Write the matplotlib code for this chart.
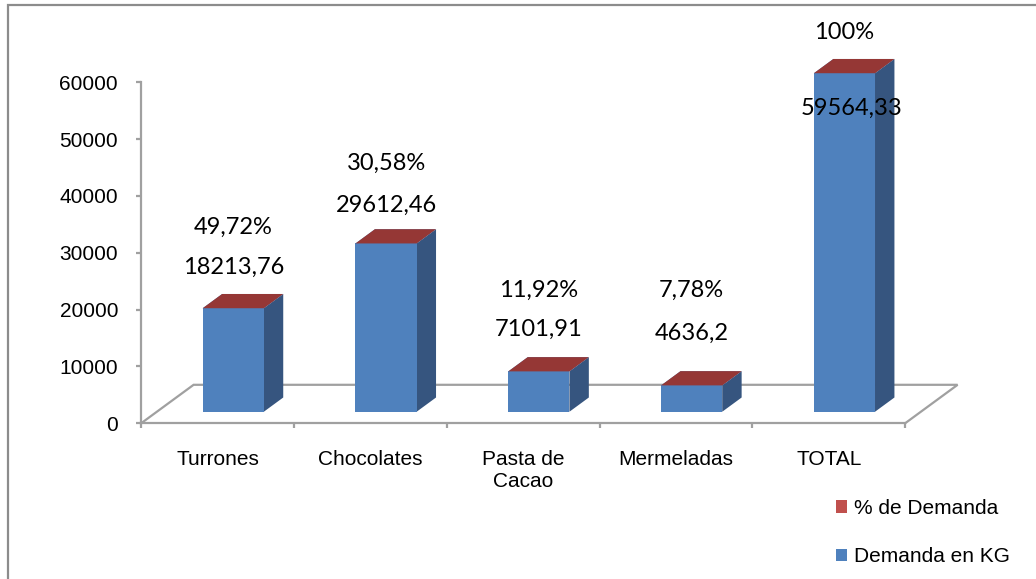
import matplotlib
matplotlib.use("Agg")
import matplotlib.pyplot as plt
from matplotlib.patches import Polygon, Rectangle, Patch
from matplotlib.ticker import FixedLocator, NullFormatter, FixedFormatter

plt.rcParams['font.family'] = ['Liberation Sans', 'DejaVu Sans']

# ---- data ----
categories = ["Turrones", "Chocolates", "Pasta de\nCacao", "Mermeladas", "TOTAL"]
demanda_kg = [18213.76, 29612.46, 7101.91, 4636.2, 59564.33]
pct_demanda = [49.72, 30.58, 11.92, 7.78, 100]
y_ticks = [0, 10000, 20000, 30000, 40000, 50000, 60000]
series_names = ["% de Demanda", "Demanda en KG"]

# ---- layout / style ----
W, H, DPI = 1036, 579, 100
PX_PER_CAT = 152.8          # pixels per category slot
PX_PER_UNIT = 341 / 60000   # pixels per kg on the value axis
X0_PX, Y0_PX = 217.5, 423.3 # pixel position of category 0 / value 0

# oblique depth of the floor, in data units
DEPTH_DX = 52.5 / PX_PER_CAT
DEPTH_DY = 38.5 / PX_PER_UNIT
BAR_FRONT, BAR_BACK = 0.30, 0.67   # bar position inside the floor depth
BAR_W = 0.40

FRONT = "#4F81BD"
SIDE = "#36557F"
TOP_RED = "#953735"
RED_FRONT = "#C0504D"
RED_SIDE = "#8C3836"
AXIS_GRAY = "#A0A0A0"

# label offsets above the bar front top (pixels)
val_off_px = [41, 38, 42, 52, -35]
pct_off_px = [81, 80, 81, 95, 41]
val_dx_px = [0, 0, 0, 0, 7]

fig = plt.figure(figsize=(W / DPI, H / DPI), dpi=DPI)
ax = fig.add_axes([0, 0, 1, 1])
ax.set_xlim(-X0_PX / PX_PER_CAT, (W - X0_PX) / PX_PER_CAT)
ax.set_ylim((Y0_PX - H) / PX_PER_UNIT, Y0_PX / PX_PER_UNIT)
ax.patch.set_visible(False)

# outer chart frame
fig.patches.append(Rectangle((8 / W, -0.2), 1.2, (H - 5) / H + 0.2,
                             transform=fig.transFigure, fill=False,
                             ec="#8C8C8C", lw=1.6))

# ---- axes ----
n = len(categories)
for s in ("top", "right"):
    ax.spines[s].set_visible(False)
ax.spines["left"].set_position(("data", -0.5))
ax.spines["left"].set_bounds(y_ticks[0], y_ticks[-1])
ax.spines["bottom"].set_position(("data", 0))
ax.spines["bottom"].set_bounds(-0.5, n - 0.5)
for s in ("left", "bottom"):
    ax.spines[s].set_color(AXIS_GRAY)
    ax.spines[s].set_linewidth(1.6)
    ax.spines[s].set_zorder(2)

ax.yaxis.set_major_locator(FixedLocator(y_ticks))
ax.set_yticklabels([str(t) for t in y_ticks])
ax.tick_params(axis="y", direction="out", length=3.6, width=1.6,
               color=AXIS_GRAY, labelsize=15, pad=13)

ax.xaxis.set_major_locator(FixedLocator([i - 0.5 for i in range(n + 1)]))
ax.xaxis.set_major_formatter(NullFormatter())
ax.xaxis.set_minor_locator(FixedLocator(list(range(n))))
ax.xaxis.set_minor_formatter(FixedFormatter(categories))
ax.tick_params(axis="x", which="major", direction="out", length=3.6,
               width=1.6, color=AXIS_GRAY)
ax.tick_params(axis="x", which="minor", length=0, labelsize=15, pad=19)

# ---- floor outline ----
fl = [(-0.5, 0), (-0.5 + DEPTH_DX, DEPTH_DY),
      (n - 0.5 + DEPTH_DX, DEPTH_DY), (n - 0.5, 0)]
ax.plot([p[0] for p in fl], [p[1] for p in fl], color=AXIS_GRAY,
        lw=1.6, zorder=1, solid_joinstyle="miter")


def box(x_left, base, height, fc_front, fc_side, fc_top, z):
    """Draw an oblique 3D box whose front face starts at (x_left, base)."""
    ddx = (BAR_BACK - BAR_FRONT) * DEPTH_DX
    ddy = (BAR_BACK - BAR_FRONT) * DEPTH_DY
    xr = x_left + BAR_W
    top = base + height
    side = [(xr, base), (xr + ddx, base + ddy), (xr + ddx, top + ddy), (xr, top)]
    front = [(x_left, base), (xr, base), (xr, top), (x_left, top)]
    lid = [(x_left, top), (xr, top), (xr + ddx, top + ddy), (x_left + ddx, top + ddy)]
    ax.add_patch(Polygon(side, closed=True, fc=fc_side, ec="none", zorder=z))
    ax.add_patch(Polygon(front, closed=True, fc=fc_front, ec="none", zorder=z))
    ax.add_patch(Polygon(lid, closed=True, fc=fc_top, ec="none", zorder=z))


for i, (v, p) in enumerate(zip(demanda_kg, pct_demanda)):
    xl = i + BAR_FRONT * DEPTH_DX - BAR_W / 2
    base = BAR_FRONT * DEPTH_DY
    box(xl, base, v, FRONT, SIDE, FRONT, 3 + i * 0.01)
    # percentage series stacked on top (fraction of demand)
    box(xl, base + v, p / 100, RED_FRONT, RED_SIDE, TOP_RED, 3.005 + i * 0.01)

    cx = i + BAR_FRONT * DEPTH_DX
    top = base + v
    ax.annotate(str(v).replace(".", ","), xy=(cx, top),
                xytext=(val_dx_px[i] * 0.72, val_off_px[i] * 0.72),
                textcoords="offset points", ha="center", va="center",
                fontsize=17, family=["Lato", "DejaVu Sans"], zorder=6)
    ax.annotate(f"{p:g}".replace(".", ",") + "%", xy=(cx, top),
                xytext=(0, pct_off_px[i] * 0.72),
                textcoords="offset points", ha="center", va="center",
                fontsize=17, family=["Lato", "DejaVu Sans"], zorder=6)

# ---- legend ----
handles = [Patch(fc=RED_FRONT, ec="none"), Patch(fc=FRONT, ec="none")]
leg = ax.legend(handles, series_names, loc="upper left",
                bbox_to_anchor=(836 / W, 1 - 499 / H),
                bbox_transform=fig.transFigure, frameon=False, fontsize=15,
                handlelength=0.55, handleheight=0.55, handletextpad=0.3,
                labelspacing=1.4, borderpad=0, borderaxespad=0)

fig.savefig("out.png", dpi=DPI)
